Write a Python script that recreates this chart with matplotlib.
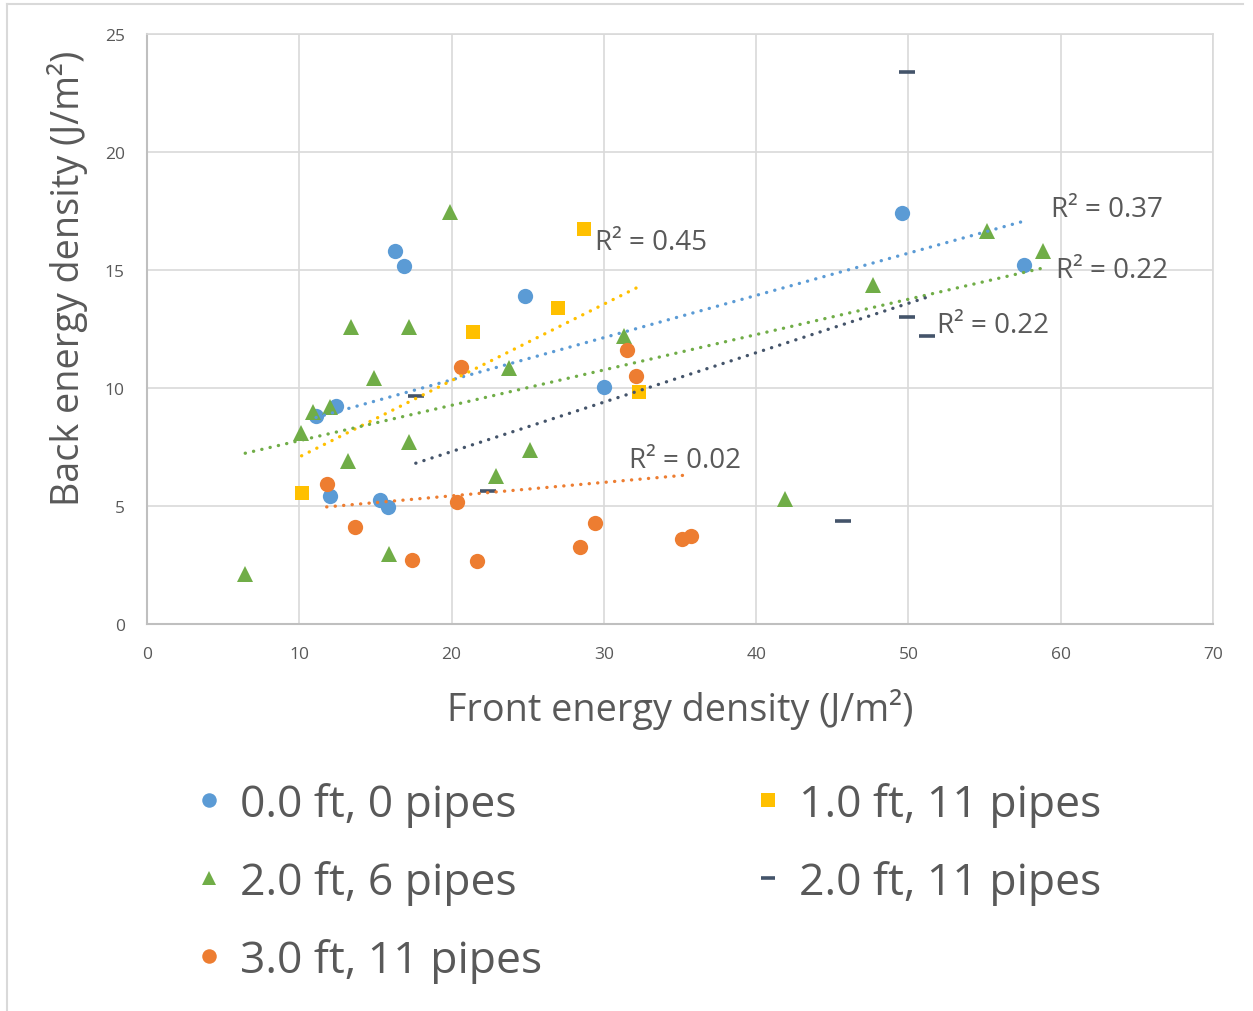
import numpy as np
import matplotlib
matplotlib.use("Agg")
import matplotlib.pyplot as plt
from matplotlib.lines import Line2D

plt.rcParams["font.family"] = ["Open Sans", "DejaVu Sans"]

TEXT = "#595959"

# series data (front, back energy density, J/m^2)
blue_x = [16.3, 16.9, 12.4, 11.1, 12.0, 15.3, 15.8, 24.8, 30.0, 49.6, 57.6]
blue_y = [15.8, 15.17, 9.24, 8.83, 5.42, 5.27, 4.97, 13.88, 10.06, 17.42, 15.21]

yellow_x = [10.15, 21.4, 27.0, 28.7, 32.3]
yellow_y = [5.55, 12.39, 13.38, 16.74, 9.84]

green_x = [6.45, 10.1, 10.9, 12.0, 13.2, 13.4, 14.9, 17.2, 17.2, 15.9,
           19.9, 22.9, 23.75, 25.15, 31.3, 41.9, 47.7, 55.15, 58.85]
green_y = [2.12, 8.08, 8.97, 9.18, 6.89, 12.57, 10.42, 12.57, 7.7, 2.95,
           17.44, 6.26, 10.83, 7.36, 12.22, 5.3, 14.38, 16.67, 15.82]

navy_x = [49.9, 49.9, 51.2, 45.7, 17.65, 22.4]
navy_y = [23.38, 13.02, 12.19, 4.38, 9.67, 5.65]

orange_x = [11.8, 13.65, 17.4, 21.7, 20.35, 20.6, 28.45, 29.4, 31.55, 32.1, 35.1, 35.7]
orange_y = [5.95, 4.11, 2.71, 2.66, 5.17, 10.88, 3.26, 4.27, 11.61, 10.52, 3.6, 3.72]

# (label text, x, y) of the R^2 annotations
r2_labels = [
    ("R\u00b2 = 0.45", 29.4, 16.2),
    ("R\u00b2 = 0.37", 59.35, 17.6),
    ("R\u00b2 = 0.22", 59.7, 15.0),
    ("R\u00b2 = 0.22", 51.85, 12.67),
    ("R\u00b2 = 0.02", 31.65, 6.95),
]

series = [
    ("0.0 ft, 0 pipes", blue_x, blue_y, "#5B9BD5", "o", 11),
    ("1.0 ft, 11 pipes", yellow_x, yellow_y, "#FFC000", "s", 10),
    ("2.0 ft, 6 pipes", green_x, green_y, "#70AD47", "^", 11),
    ("2.0 ft, 11 pipes", navy_x, navy_y, "#44546A", "_", 11),
    ("3.0 ft, 11 pipes", orange_x, orange_y, "#ED7D31", "o", 11),
]

fig = plt.figure(figsize=(12.53, 10.12), dpi=100)
ax = fig.add_axes([147 / 1253, 1 - 625 / 1012, 1066 / 1253, 590 / 1012])

handles = {}
for name, xs, ys, color, marker, ms in series:
    if marker == "_":
        (h,) = ax.plot(xs, ys, linestyle="none", marker="_", markersize=ms,
                       markeredgewidth=2.6, color=color, zorder=3)
    else:
        (h,) = ax.plot(xs, ys, linestyle="none", marker=marker, markersize=ms,
                       color=color, markeredgewidth=0, zorder=3)
    handles[name] = h
    # linear trendline over the data range
    k, b = np.polyfit(xs, ys, 1)
    tx = np.array([min(xs), max(xs)])
    ax.plot(tx, k * tx + b, color=color, linewidth=2.4, linestyle=(0, (0.05, 2.5)),
            dash_capstyle="round", zorder=4)

for txt, x, y in r2_labels:
    ax.text(x, y, txt, fontsize=20, color=TEXT, ha="left", va="center", zorder=5)

ax.set_xlim(0, 70)
ax.set_ylim(0, 25)
ax.set_xticks(range(0, 71, 10))
ax.set_yticks(range(0, 26, 5))
ax.grid(True, color="#D9D9D9", linewidth=1.2)
ax.set_axisbelow(True)
for side in ["top", "right"]:
    ax.spines[side].set_color("#D9D9D9")
    ax.spines[side].set_linewidth(1.2)
for side in ["left", "bottom"]:
    ax.spines[side].set_color("#BFBFBF")
    ax.spines[side].set_linewidth(1.5)
ax.tick_params(length=0, labelsize=12.5, labelcolor=TEXT, pad=16)

ax.set_xlabel("Front energy density (J/m\u00b2)", fontsize=27.2, color=TEXT)
ax.set_ylabel("Back energy density (J/m\u00b2)", fontsize=27.2, color=TEXT)
ax.xaxis.set_label_coords(0.5, -0.108)
ax.yaxis.set_label_coords(-0.0553, 0.588)

order = ["0.0 ft, 0 pipes", "2.0 ft, 6 pipes", "3.0 ft, 11 pipes",
         "1.0 ft, 11 pipes", "2.0 ft, 11 pipes"]
fig.legend([handles[n] for n in order], order, loc="upper left",
           bbox_to_anchor=(196 / 1253, 1 - 783 / 1012), ncol=2, frameon=False,
           fontsize=32, labelcolor=TEXT, handlelength=0.6, handletextpad=0.4,
           columnspacing=4.77, labelspacing=0.74, markerscale=0.95,
           borderpad=0, borderaxespad=0)

# chart area frame (top and left edges visible)
fig.add_artist(Line2D([7 / 1253, 7 / 1253], [0, 1 - 5 / 1012],
                      transform=fig.transFigure, color="#D9D9D9", linewidth=1.5))
fig.add_artist(Line2D([7 / 1253, 1243 / 1253], [1 - 5 / 1012, 1 - 5 / 1012],
                      transform=fig.transFigure, color="#D9D9D9", linewidth=1.5))

fig.savefig("out.png", dpi=100)
